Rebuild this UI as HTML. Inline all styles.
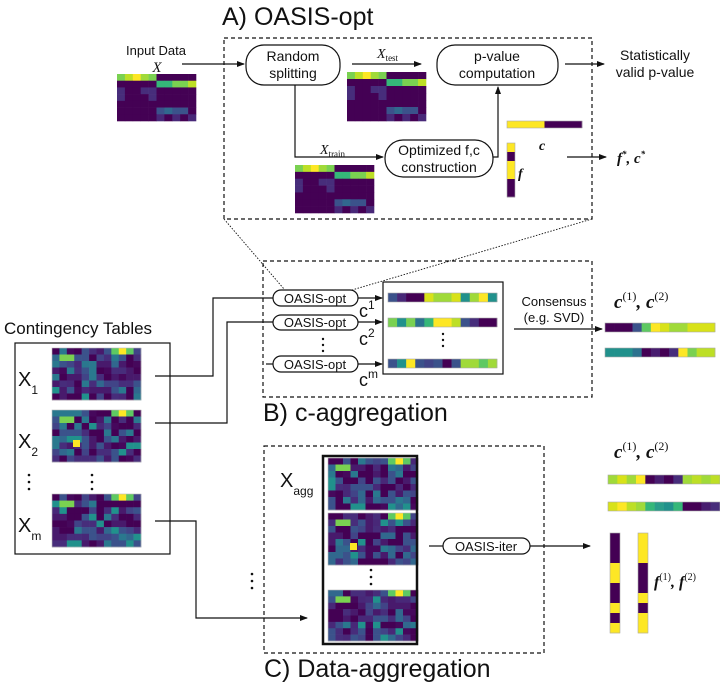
<!DOCTYPE html>
<html><head><meta charset="utf-8">
<style>
html,body{margin:0;padding:0;background:#fff;}
svg{display:block;}
text{font-family:"Liberation Sans",sans-serif;fill:#111;}
.m{font-family:"Liberation Serif",serif;font-style:italic;}
.b{font-family:"Liberation Serif",serif;font-style:italic;font-weight:bold;}
</style></head><body>
<svg id="s" width="720" height="685" viewBox="0 0 720 685" xmlns="http://www.w3.org/2000/svg">
<defs>
<marker id="ah" markerWidth="8" markerHeight="8" refX="7" refY="4" orient="auto" markerUnits="userSpaceOnUse">
<path d="M0,1 L8,4 L0,7 z" fill="#111"/></marker>
</defs>
<g id="hm"></g>
<g fill="none" stroke="#111" stroke-width="1.2">
<rect x="224" y="38" width="368" height="181" stroke-dasharray="4,3"/>
<line x1="224" y1="219" x2="284" y2="289" stroke-dasharray="1.5,1.5" stroke-width="0.9"/>
<line x1="592" y1="219" x2="352" y2="290" stroke-dasharray="1.5,1.5" stroke-width="0.9"/>
<rect x="246" y="45" width="94" height="40" rx="18"/>
<rect x="437" y="45" width="121" height="40" rx="18"/>
<rect x="385" y="140" width="108" height="37" rx="18"/>
<line x1="182" y1="64" x2="244" y2="64" marker-end="url(#ah)"/>
<line x1="352" y1="64" x2="421" y2="64" marker-end="url(#ah)"/>
<line x1="565" y1="64" x2="604" y2="64" marker-end="url(#ah)"/>
<polyline points="295,85 295,157 383,157" marker-end="url(#ah)"/>
<polyline points="493,157 498,157 498,87" marker-end="url(#ah)"/>
<line x1="567" y1="157" x2="606" y2="157" marker-end="url(#ah)"/>
<rect x="263" y="261" width="329" height="136" stroke-dasharray="4,3"/>
<rect x="273" y="290" width="85" height="16" rx="8"/>
<rect x="273" y="315" width="85" height="15" rx="8"/>
<rect x="273" y="356" width="85" height="16" rx="8"/>
<line x1="266" y1="364" x2="273" y2="364"/>
<line x1="358" y1="298" x2="382" y2="298" marker-end="url(#ah)"/>
<line x1="358" y1="322" x2="382" y2="322" marker-end="url(#ah)"/>
<line x1="358" y1="364" x2="382" y2="364" marker-end="url(#ah)"/>
<rect x="383" y="282" width="120" height="92"/>
<line x1="514" y1="329" x2="602" y2="329" marker-end="url(#ah)"/>
<polyline points="155,376 213,376 213,298 273,298"/>
<polyline points="155,423 227,423 227,322 273,322"/>
<rect x="15" y="343" width="155" height="211"/>
<rect x="264" y="446" width="280" height="207" stroke-dasharray="4,3"/>
<polyline points="155,521 196,521 196,618 307,618" marker-end="url(#ah)"/>
<rect x="323" y="456" width="94" height="188" stroke-width="2.5"/>
<rect x="443" y="538" width="87" height="16" rx="8"/>
<line x1="429" y1="546" x2="443" y2="546"/>
<line x1="530" y1="546" x2="590" y2="546" marker-end="url(#ah)"/>
</g>
<g fill="#111">
<circle cx="323" cy="339" r="1.2"/><circle cx="323" cy="345" r="1.2"/><circle cx="323" cy="351" r="1.2"/>
<circle cx="443" cy="334" r="1.2"/><circle cx="443" cy="340" r="1.2"/><circle cx="443" cy="346" r="1.2"/>
<circle cx="29" cy="475" r="1.3"/><circle cx="29" cy="482" r="1.3"/><circle cx="29" cy="489" r="1.3"/>
<circle cx="92" cy="475" r="1.3"/><circle cx="92" cy="482" r="1.3"/><circle cx="92" cy="489" r="1.3"/>
<circle cx="252" cy="574" r="1.3"/><circle cx="252" cy="581" r="1.3"/><circle cx="252" cy="588" r="1.3"/>
<circle cx="371" cy="570" r="1.3"/><circle cx="371" cy="577" r="1.3"/><circle cx="371" cy="584" r="1.3"/>
</g>
<text x="222" y="25" font-size="25">A) OASIS-opt</text>
<text x="156" y="55" font-size="13" text-anchor="middle">Input Data</text>
<text x="157" y="72" font-size="15" class="m" text-anchor="middle">X</text>
<text x="293" y="61" font-size="14" text-anchor="middle">Random</text>
<text x="293" y="78" font-size="14" text-anchor="middle">splitting</text>
<text x="377" y="58" font-size="14" class="m">X<tspan font-size="9" font-style="normal" dy="3">test</tspan></text>
<text x="497" y="61" font-size="14" text-anchor="middle">p-value</text>
<text x="497" y="78" font-size="14" text-anchor="middle">computation</text>
<text x="655" y="60" font-size="14" text-anchor="middle">Statistically</text>
<text x="655" y="77" font-size="14" text-anchor="middle">valid p-value</text>
<text x="320" y="154" font-size="14" class="m">X<tspan font-size="9" font-style="normal" dy="3">train</tspan></text>
<text x="439" y="155" font-size="14" text-anchor="middle">Optimized f,c</text>
<text x="439" y="172" font-size="14" text-anchor="middle">construction</text>
<text x="539" y="150" font-size="14" class="b">c</text>
<text x="518" y="178" font-size="14" class="b">f</text>
<text x="617" y="163" font-size="15" class="b">f<tspan font-size="9" dy="-6">*</tspan><tspan dy="6">, c</tspan><tspan font-size="9" dy="-6">*</tspan></text>
<text x="315" y="303" font-size="13" text-anchor="middle">OASIS-opt</text>
<text x="315" y="327" font-size="13" text-anchor="middle">OASIS-opt</text>
<text x="315" y="369" font-size="13" text-anchor="middle">OASIS-opt</text>
<text x="359" y="317" font-size="18">c<tspan font-size="12" dy="-8">1</tspan></text>
<text x="359" y="345" font-size="18">c<tspan font-size="12" dy="-8">2</tspan></text>
<text x="359" y="386" font-size="18">c<tspan font-size="12" dy="-8">m</tspan></text>
<text x="554" y="306" font-size="13" text-anchor="middle">Consensus</text>
<text x="554" y="322" font-size="13" text-anchor="middle">(e.g. SVD)</text>
<text x="614" y="308" font-size="19" class="b">c<tspan font-size="12" font-style="normal" font-weight="normal" dy="-8">(1)</tspan><tspan dy="8">, c</tspan><tspan font-size="12" font-style="normal" font-weight="normal" dy="-8">(2)</tspan></text>
<text x="4" y="334" font-size="17">Contingency Tables</text>
<text x="18" y="386" font-size="20">X<tspan font-size="12" dy="8">1</tspan></text>
<text x="18" y="448" font-size="20">X<tspan font-size="12" dy="8">2</tspan></text>
<text x="18" y="532" font-size="20">X<tspan font-size="12" dy="8">m</tspan></text>
<text x="263" y="421" font-size="25">B) c-aggregation</text>
<text x="280" y="487" font-size="20">X<tspan font-size="12" dy="8">agg</tspan></text>
<text x="486" y="551" font-size="13" text-anchor="middle">OASIS-iter</text>
<text x="614" y="458" font-size="19" class="b">c<tspan font-size="12" font-style="normal" font-weight="normal" dy="-8">(1)</tspan><tspan dy="8">, c</tspan><tspan font-size="12" font-style="normal" font-weight="normal" dy="-8">(2)</tspan></text>
<text x="654" y="587" font-size="16" class="b">f<tspan font-size="10" font-style="normal" font-weight="normal" dy="-7">(1)</tspan><tspan dy="7">, f</tspan><tspan font-size="10" font-style="normal" font-weight="normal" dy="-7">(2)</tspan></text>
<text x="264" y="677" font-size="25">C) Data-aggregation</text>
</svg>
<script>
var NS="http://www.w3.org/2000/svg",g=document.getElementById("hm");
function R(x,y,w,h,c){var r=document.createElementNS(NS,"rect");r.setAttribute("x",x);r.setAttribute("y",y);r.setAttribute("width",w);r.setAttribute("height",h);r.setAttribute("fill",c);g.appendChild(r);}
var P="#440154";
function A(x,y,w,h){var cw=w/10,rh=h/7;
 var rows=[
 ["#7ad151","#bddf26","#fde725","#a0da39","#7ad151",P,P,P,P,P],
 [P,P,P,P,P,"#35b779","#35b779","#7ad151","#7ad151","#bddf26"],
 ["#472d7b",P,P,"#472d7b","#472d7b",P,P,P,P,P],
 ["#472d7b",P,P,P,"#472d7b",P,P,P,P,P],
 [P,P,P,P,P,P,P,P,P,P],
 [P,P,P,P,P,"#3b528b","#31688e","#3b528b","#3b528b",P],
 [P,P,P,P,P,"#482878",P,"#482878",P,"#482878"]];
 for(var i=0;i<7;i++)for(var j=0;j<10;j++)R(x+j*cw,y+i*rh,cw+0.3,rh+0.3,rows[i][j]);}
A(117,74,79,47);A(347,72,79,49);A(295,165,79,48);
var seed=7;function rnd(){seed=(seed*16807)%2147483647;return seed/2147483647;}
var pal=["#440154","#440154","#440154","#440154","#46085c","#481a6c","#481a6c","#472d7b","#472d7b","#482878","#414487","#3b528b","#3b528b","#31688e","#2a788e","#21918c"];
function H(x,y,w,h){var cw=w/12,rh=h/8;for(var i=0;i<8;i++)for(var j=0;j<12;j++){var c=pal[Math.floor(rnd()*pal.length)];
 if(i==0&&j==9)c="#fde725";if(i==0&&(j==8||j==10))c="#5ec962";if(i==1&&(j==1||j==2))c="#7ad151";
 R(x+j*cw,y+i*rh,cw+0.3,rh+0.3,c);}
 var r=document.createElementNS(NS,"rect");r.setAttribute("x",x);r.setAttribute("y",y);r.setAttribute("width",w);r.setAttribute("height",h);r.setAttribute("fill","none");r.setAttribute("stroke","#bbb");r.setAttribute("stroke-width","0.6");g.appendChild(r);}
H(52,348,89,52);H(52,410,89,52);H(52,494,89,53);
H(328,458,90,52);H(328,513,90,52);H(328,590,90,51);
R(350,543,7,7,"#fde725");R(73,440,7,7,"#fde725");
function BAR(x,y,w,h,cs,v){var n=cs.length;for(var i=0;i<n;i++){if(v)R(x,y+i*h/n,w,h/n+0.3,cs[i]);else R(x+i*w/n,y,w/n+0.3,h,cs[i]);}
 var r=document.createElementNS(NS,"rect");r.setAttribute("x",x);r.setAttribute("y",y);r.setAttribute("width",w);r.setAttribute("height",h);r.setAttribute("fill","none");r.setAttribute("stroke","#aaa");r.setAttribute("stroke-width","0.6");g.appendChild(r);}
BAR(388,293,109,9,["#3b528b","#482878",P,P,"#d8e219","#a0da39","#a0da39","#d8e219","#21918c","#a0da39","#fde725","#21918c"]);
BAR(388,318,109,9,["#7ad151","#21918c","#7ad151","#2c728e","#35b779","#fde725","#fde725","#bddf26","#3b528b","#472d7b",P,P]);
BAR(388,359,109,9,["#3b528b","#21918c","#fde725","#3b528b","#414487","#3b528b",P,"#3b528b","#a0da39","#a0da39","#5ec962","#a0da39"]);
BAR(605,323,110,9,[P,P,P,"#3b528b","#5ec962","#fde725","#d8e219","#a0da39","#a0da39","#d8e219","#d8e219","#d8e219"]);
BAR(605,348,110,9,["#21918c","#21918c","#21918c","#2c728e",P,"#481d6f",P,"#472d7b","#fde725","#7ad151","#bddf26","#bddf26"]);
BAR(608,475,112,9,["#a0da39","#d8e219","#a0da39","#fde725",P,"#481d6f",P,"#472d7b","#a0da39","#bddf26","#a0da39","#bddf26"]);
BAR(608,502,112,9,["#d8e219","#fde725","#bddf26","#a0da39","#35b779","#2a9d8a","#21918c","#35b779",P,P,"#481d6f","#472d7b"]);
BAR(507,121,75,7,["#fde725",P]);
BAR(507,143,8,54,["#fde725",P,"#fde725","#fde725",P,P],true);
BAR(610,533,10,100,[P,P,P,"#fde725","#fde725",P,P,"#fde725",P,"#fde725"],true);
BAR(638,533,10,100,["#fde725","#fde725","#fde725",P,P,P,"#fde725",P,"#fde725","#fde725"],true);
</script>
</body></html>
